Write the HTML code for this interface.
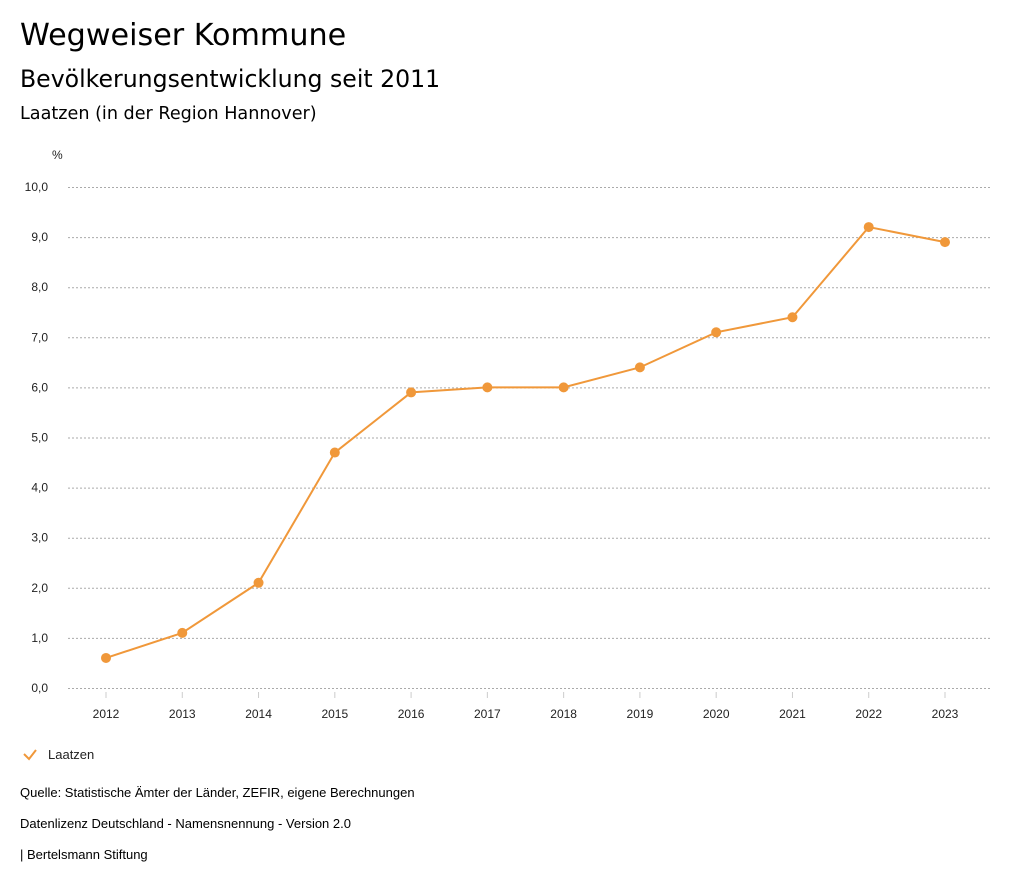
<!DOCTYPE html>
<html><head><meta charset="utf-8"><style>
body{margin:0;background:#fff;font-family:"Liberation Sans",sans-serif;color:#000}
#wrap{position:relative;width:1024px;height:888px;overflow:hidden}
.t{position:absolute;white-space:nowrap}
.h{font-family:"DejaVu Sans",sans-serif}
</style></head><body><div id="wrap">
<div class="t h" style="left:20px;top:18px;font-size:30.2px">Wegweiser Kommune</div>
<div class="t h" style="left:20px;top:65px;font-size:23.6px">Bevölkerungsentwicklung seit 2011</div>
<div class="t h" style="left:20px;top:104px;font-size:17.6px">Laatzen (in der Region Hannover)</div>
<svg id="chart" width="1024" height="888" style="position:absolute;left:0;top:0"></svg>
<div class="t" style="left:20px;top:785px;font-size:13px">Quelle: Statistische Ämter der Länder, ZEFIR, eigene Berechnungen</div>
<div class="t" style="left:20px;top:816px;font-size:13px">Datenlizenz Deutschland - Namensnennung - Version 2.0</div>
<div class="t" style="left:20px;top:847px;font-size:13px">| Bertelsmann Stiftung</div>
</div>
<script>
const years=["2012","2013","2014","2015","2016","2017","2018","2019","2020","2021","2022","2023"];
const values=[0.6,1.1,2.1,4.7,5.9,6.0,6.0,6.4,7.1,7.4,9.2,8.9];
const yTicks=[0,1,2,3,4,5,6,7,8,9,10];
const NS="http://www.w3.org/2000/svg";
const svg=document.getElementById('chart');
const x=i=>106+i*(945-106)/(years.length-1);
const y=v=>688-v*50.1;
function mk(t,a){const e=document.createElementNS(NS,t);for(const k in a)e.setAttribute(k,a[k]);svg.appendChild(e);return e;}
const u=mk('text',{x:52,y:159,'font-size':12,fill:'#222'});u.textContent='%';


yTicks.forEach(v=>{
 const l=mk('line',{x1:68,x2:990,y1:y(v)+0.5,y2:y(v)+0.5,stroke:'#aaa','stroke-dasharray':'2,2','stroke-width':1});
 
 
 const t=mk('text',{x:48,y:y(v)+4,'font-size':12,'text-anchor':'end',fill:'#222'});
 t.textContent=v.toFixed(1).replace('.',',');
 
 
});
years.forEach((yr,i)=>{
 const l=mk('line',{x1:x(i),x2:x(i),y1:692,y2:698,stroke:'#ccc'});
 
 
 const t=mk('text',{x:x(i),y:718,'font-size':12,'text-anchor':'middle',fill:'#222'});
 t.textContent=yr;
 
 
});
const p=mk('polyline',{points:values.map((v,i)=>x(i)+','+y(v)).join(' '),fill:'none',stroke:'#f0983a','stroke-width':2});


values.forEach((v,i)=>{
 const c=mk('circle',{cx:x(i),cy:y(v),r:5,fill:'#f0983a'});
 
 
});
const chk=mk('polyline',{points:'24,754 29,759 36,750',fill:'none',stroke:'#f0983a','stroke-width':2});


const lt=mk('text',{x:48,y:759,'font-size':13,fill:'#222'});lt.textContent='Laatzen';


</script></body></html>
